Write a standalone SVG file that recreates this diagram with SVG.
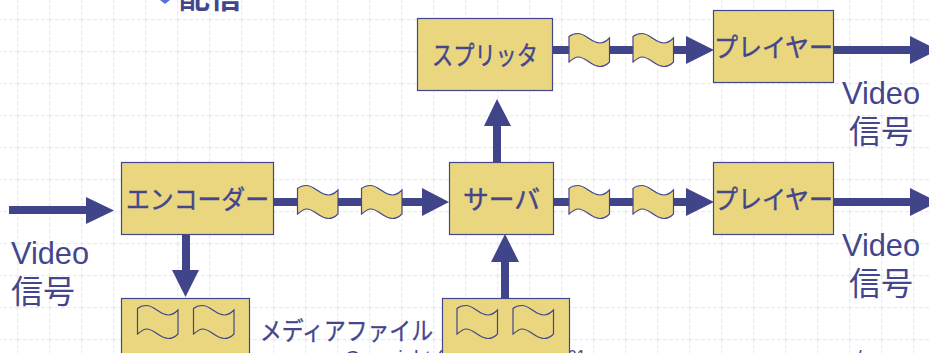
<svg xmlns="http://www.w3.org/2000/svg" width="929" height="353" viewBox="0 0 929 353">
<defs>
<pattern id="grid" width="32" height="32" patternUnits="userSpaceOnUse" x="17" y="19">
<path d="M0 0.500H32M0.500 0V32" fill="none" stroke="#e8ebf9" stroke-width="1.500" stroke-dasharray="4 2"/>
</pattern>
<path id="wave" d="M0 3C3 0.500 6 0 9 0C17 0 22 9.500 31 9.500C35 9.500 38 7 40.500 4.500V28.500C38 31 35 33 31 33C22 33 17 23.500 9 23.500C6 23.500 3 26 0 28.500Z"/>
</defs>
<style>
.box{fill:#ead67f;stroke:#43468c;stroke-width:1.200}
.w{fill:#ead67f;stroke:#43468c;stroke-width:1.200}
.shaft{stroke:#404489;stroke-width:8;fill:none}
.head{fill:#404489}
text{font-family:"Liberation Sans","Noto Sans CJK JP",sans-serif;fill:#43468c}
.l{font-size:26px;stroke:#43468c;stroke-width:.4}
.m{font-size:25px;stroke:#43468c;stroke-width:.3}
.v{font-size:32px}
.c{font-size:20px}
</style>
<rect width="929" height="353" fill="#fff"/>
<rect width="929" height="353" fill="url(#grid)"/>
<g id="title"><path d="M160 0H170L165 4Z" fill="#5a70d8"/><text x="179" y="8" font-size="31" font-weight="bold">配信</text></g>
<text class="c" x="345" y="365">Copyright (c)</text>
<text x="550" y="362" font-size="16">2001</text>
<text class="c" x="856" y="365">/</text>
<g id="connectors">
<path class="shaft" d="M9 210H88"/><path class="head" d="M86 197L114 210.500L86 224Z"/>
<path class="shaft" d="M274 202H425"/><path class="head" d="M422 188L449 202L422 216Z"/>
<path class="shaft" d="M186 234V272"/><path class="head" d="M172 270H199L185.500 297Z"/>
<path class="shaft" d="M497 162V124"/><path class="head" d="M484 126H511L497 99Z"/>
<path class="shaft" d="M505 298V259"/><path class="head" d="M491 262H519L505 234Z"/>
<path class="shaft" d="M552 50H688"/><path class="head" d="M686 36L714 50L686 64Z"/>
<path class="shaft" d="M554 202H688"/><path class="head" d="M686 188L714 202L686 216Z"/>
<path class="shaft" d="M833 50H912"/><path class="head" d="M910 36L938 50L910 64Z"/>
<path class="shaft" d="M833 202H912"/><path class="head" d="M910 188L938 202L910 216Z"/>
</g>
<g id="encoder"><rect class="box" x="121.500" y="162.500" width="152" height="72"/><text class="l" x="126" y="209" textLength="143" lengthAdjust="spacingAndGlyphs">エンコーダー</text></g>
<g id="server"><rect class="box" x="449.500" y="162.500" width="104" height="72"/><text class="l" x="463" y="209" textLength="77" lengthAdjust="spacingAndGlyphs">サーバ</text></g>
<g id="splitter"><rect class="box" x="417.500" y="18.500" width="135" height="72"/><text class="l" x="432" y="65" textLength="106" lengthAdjust="spacingAndGlyphs">スプリッタ</text></g>
<g id="player1"><rect class="box" x="713.500" y="10.500" width="120" height="72"/><text class="l" x="714" y="57" textLength="119" lengthAdjust="spacingAndGlyphs">プレイヤー</text></g>
<g id="player2"><rect class="box" x="713.500" y="162.500" width="120" height="72"/><text class="l" x="714" y="209" textLength="119" lengthAdjust="spacingAndGlyphs">プレイヤー</text></g>
<g id="stream-a1"><use href="#wave" class="w" x="297.500" y="185.500"/></g>
<g id="stream-a2"><use href="#wave" class="w" x="361.500" y="185.500"/></g>
<g id="stream-b1"><use href="#wave" class="w" x="569" y="33.500"/></g>
<g id="stream-b2"><use href="#wave" class="w" x="633" y="33.500"/></g>
<g id="stream-c1"><use href="#wave" class="w" x="569" y="185.500"/></g>
<g id="stream-c2"><use href="#wave" class="w" x="633" y="185.500"/></g>
<g id="media-file"><rect class="box" x="121.500" y="298.500" width="128" height="72"/><use href="#wave" class="w" x="137.500" y="305.500"/><use href="#wave" class="w" x="193.500" y="305.500"/></g>
<text class="m" x="260" y="340" textLength="173" lengthAdjust="spacingAndGlyphs">メディアファイル</text>
<g id="media-file-2"><rect class="box" x="442.500" y="298.500" width="127" height="72"/><use href="#wave" class="w" x="457" y="305.500"/><use href="#wave" class="w" x="513" y="305.500"/></g>
<g id="label-in"><text class="v" x="11" y="264" textLength="78" lengthAdjust="spacingAndGlyphs">Video</text><text class="v" x="11" y="303">信号</text></g>
<g id="label-out1"><text class="v" x="842" y="104" textLength="78" lengthAdjust="spacingAndGlyphs">Video</text><text class="v" x="849" y="143">信号</text></g>
<g id="label-out2"><text class="v" x="842" y="256" textLength="78" lengthAdjust="spacingAndGlyphs">Video</text><text class="v" x="849" y="295">信号</text></g>
</svg>
